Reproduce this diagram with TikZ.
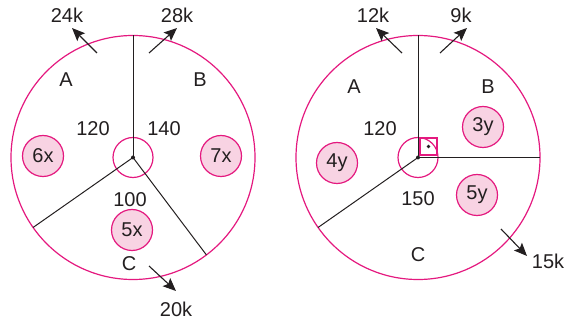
\documentclass[tikz,border=0pt]{standalone}
\usepackage{fontspec}
\setmainfont{Liberation Sans}
\usetikzlibrary{arrows.meta, calc}
\definecolor{ringpink}{HTML}{E4197F}
\definecolor{softpink}{HTML}{F8D3E3}
\definecolor{inkgrey}{HTML}{231F20}

\begin{document}
\begin{tikzpicture}[x=1pt, y=1pt, font=\fontsize{20}{22}\selectfont, text=inkgrey,
  ring/.style={draw=ringpink, line width=1.2pt},
  spoke/.style={draw=inkgrey, line width=1pt},
  flow/.style={draw=inkgrey, line width=1.1pt, -{Stealth[length=13pt, width=11pt, inset=2.5pt]}},
  share/.style={circle, draw=ringpink, fill=softpink, line width=1.2pt, minimum size=41pt, inner sep=0pt}]
  \useasboundingbox (0,0) rectangle (588,329);

  % Left circle
  \coordinate (cL) at (133,171.5);
  \draw[ring] (cL) circle (122pt);
  \draw[ring] (cL) circle (20pt);
  \coordinate (endLa) at ($(cL)+(90:122pt)$);
  \coordinate (endLb) at ($(cL)+(215:122pt)$);
  \coordinate (endLc) at ($(cL)+(307:122pt)$);
  \draw[spoke] (cL) -- (endLa);
  \draw[spoke] (cL) -- (endLb);
  \draw[spoke] (cL) -- (endLc);
  \fill[inkgrey] (cL) circle (2pt);
  % Left flows
  \coordinate (inLa) at (97,276);  \coordinate (outLa) at (72,301);
  \coordinate (inLb) at (149,276); \coordinate (outLb) at (177,301);
  \coordinate (inLc) at (149,63);  \coordinate (outLc) at (176,38);
  \draw[flow] (inLa) -- (outLa);
  \draw[flow] (inLb) -- (outLb);
  \draw[flow] (inLc) -- (outLc);
  \node (kLa) at (67,314) {24k};
  \node (kLb) at (177,314) {28k};
  \node (kLc) at (176,20) {20k};
  % Left labels
  \node (secLa) at (66,249) {A};
  \node (secLb) at (200,249) {B};
  \node (secLc) at (129,65) {C};
  \node (angLa) at (93,200) {120};
  \node (angLb) at (164,200) {140};
  \node (angLc) at (130,129) {100};
  \node[share] (shLa) at (43,173) {6x};
  \node[share] (shLb) at (221,173) {7x};
  \node[share] (shLc) at (132,99) {5x};

  % Right circle
  \coordinate (cR) at (418,171.5);
  \draw[ring] (cR) circle (122pt);
  \draw[ring] (cR) circle (20pt);
  \coordinate (endRa) at ($(cR)+(90:122pt)$);
  \coordinate (endRb) at ($(cR)+(0:122pt)$);
  \coordinate (endRc) at ($(cR)+(215:122pt)$);
  \draw[spoke] (cR) -- (endRa);
  \draw[spoke] (cR) -- (endRb);
  \draw[spoke] (cR) -- (endRc);
  \fill[inkgrey] (cR) circle (2pt);
  % Right angle mark
  \node[draw=ringpink, line width=2.2pt, minimum size=17pt, inner sep=0pt] (rt) at (428.5,182.5) {};
  \fill[inkgrey] (rt.center) circle (1.8pt);
  % Right flows
  \coordinate (inRa) at (402,276); \coordinate (outRa) at (376,301);
  \coordinate (inRb) at (440,276); \coordinate (outRb) at (467,301);
  \coordinate (inRc) at (501,100); \coordinate (outRc) at (527,73);
  \draw[flow] (inRa) -- (outRa);
  \draw[flow] (inRb) -- (outRb);
  \draw[flow] (inRc) -- (outRc);
  \node (kRa) at (373,314) {12k};
  \node (kRb) at (461,314) {9k};
  \node (kRc) at (548,68) {15k};
  % Right labels
  \node (secRa) at (354,242) {A};
  \node (secRb) at (488,242) {B};
  \node (secRc) at (418,74) {C};
  \node (angRa) at (380,200) {120};
  \node (angRc) at (418,130) {150};
  \node[share] (shRb) at (483,202) {3y};
  \node[share] (shRa) at (337,166) {4y};
  \node[share] (shRc) at (477,134) {5y};
\end{tikzpicture}
\end{document}
